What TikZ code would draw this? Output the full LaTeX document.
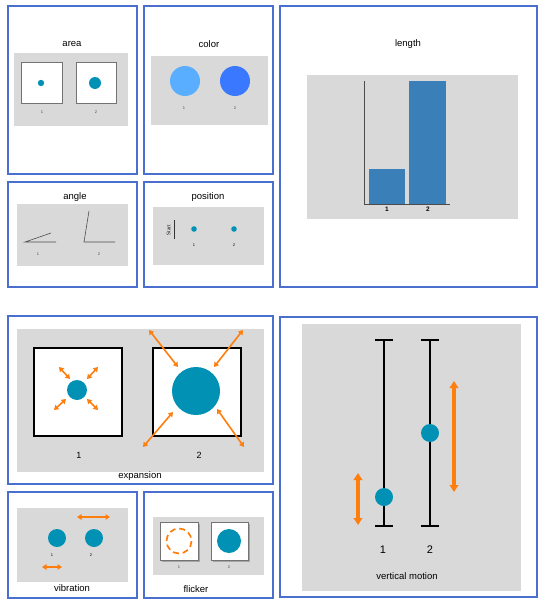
\documentclass[tikz,border=0pt]{standalone}
\usepackage{fontspec}
\setmainfont{Liberation Sans}
\newfontfamily\serifft{Liberation Serif}
\usetikzlibrary{arrows.meta}
\definecolor{panelblue}{HTML}{4A6FCF}
\definecolor{bggray}{HTML}{D9D9D9}
\definecolor{teal}{HTML}{0091B4}
\definecolor{orng}{HTML}{FF7F0E}
\definecolor{lblue}{HTML}{5AAEFF}
\definecolor{dblue}{HTML}{3A78FF}
\definecolor{barblue}{HTML}{3A7FB8}
\tikzset{
  panel/.style={draw=panelblue,line width=2.6pt,fill=white},
  bg/.style={fill=bggray},
  title/.style={font=\fontsize{9.5}{11}\selectfont},
  tiny/.style={font=\fontsize{4}{5}\selectfont,text=black!70},
  dot/.style={fill=teal},
  graybox/.style={draw=black!55,line width=1pt,fill=white},
  blackbox/.style={draw=black,line width=1.2pt,fill=white},
  oarrow/.style={draw=orng,line width=1.6pt,{Triangle[length=4.5pt,width=5.5pt]}-{Triangle[length=4.5pt,width=5.5pt]}},
  bigarrow/.style={draw=orng,line width=3.2pt,{Triangle[length=7pt,width=8.5pt]}-{Triangle[length=7pt,width=8.5pt]}},
}
\begin{document}
\begin{tikzpicture}[x=1pt,y=-1pt]
\useasboundingbox (0,0) rectangle (538,599);
% panels
\draw[panel] (8,6) rectangle (137,174);
\draw[panel] (144,6) rectangle (273,174);
\draw[panel] (280,6) rectangle (537,287);
\draw[panel] (8,182) rectangle (137,287);
\draw[panel] (144,182) rectangle (273,287);
\draw[panel] (8,316) rectangle (273,484);
\draw[panel] (280,317) rectangle (537,597);
\draw[panel] (8,492) rectangle (137,598);
\draw[panel] (144,492) rectangle (273,598);

% area
\node[title] (tArea) at (72,44) {area};
\fill[bg] (14,53) rectangle (128,126);
\draw[graybox] (21,63) rectangle (62,104);
\draw[graybox] (76,63) rectangle (116,104);
\fill[dot] (41,83) circle (3.2);
\fill[dot] (95,83) circle (6);
\node[tiny] (a1) at (42,112) {1};
\node[tiny] (a2) at (96,112) {2};

% color
\node[title] (tColor) at (209,44) {color};
\fill[bg] (151,56) rectangle (268,125);
\fill[lblue] (185,81) circle (15);
\fill[dblue] (235,81) circle (15);
\node[tiny] (c1) at (184,108) {1};
\node[tiny] (c2) at (235,108) {2};

% length
\node[title] (tLength) at (408,44) {length};
\fill[bg] (307,75) rectangle (518,219);
\fill[barblue] (369,169) rectangle (405,204);
\fill[barblue] (409,81) rectangle (446,204);
\draw[black!70,line width=0.6pt] (364,81) -- (364,204) -- (450,204);
\node[font=\fontsize{6.5}{7}\bfseries\selectfont] (l1) at (387,209.5) {1};
\node[font=\fontsize{6.5}{7}\bfseries\selectfont] (l2) at (428,209.5) {2};

% angle
\node[title] (tAngle) at (75,197) {angle};
\fill[bg] (17,204) rectangle (128,266);
\draw[black!70,line width=0.6pt] (51,233) -- (25,242) -- (56,242);
\draw[black!70,line width=0.6pt] (89,211) -- (84,242) -- (115,242);
\node[tiny] (g1) at (38,254) {1};
\node[tiny] (g2) at (99,254) {2};

% position
\node[title] (tPosition) at (208,197) {position};
\fill[bg] (153,207) rectangle (264,265);
\draw[black!80,line width=0.5pt] (174,220) -- (174,239);
\node[rotate=90,font=\serifft\fontsize{5.5}{6}\selectfont] (start) at (168.5,230) {Start};
\fill[dot] (194,229) circle (2.8);
\fill[dot] (234,229) circle (2.8);
\node[tiny,text=black] (p1) at (194,245) {1};
\node[tiny,text=black] (p2) at (234,245) {2};

% expansion
\fill[bg] (17,329) rectangle (264,472);
\draw[blackbox] (34,348) rectangle (122,436);
\draw[blackbox] (153,348) rectangle (241,436);
\fill[dot] (77,390) circle (10);
\fill[dot] (196,391) circle (24);
\draw[oarrow] (59,367) -- (70,379);
\draw[oarrow] (98,367) -- (87,379);
\draw[oarrow] (54,410) -- (66,399);
\draw[oarrow] (98,410) -- (87,399);
\draw[oarrow] (149,330) -- (178,367);
\draw[oarrow] (243,330) -- (214,367);
\draw[oarrow] (143,447) -- (173,412);
\draw[oarrow] (244,447) -- (217,409);
\node[font=\fontsize{9}{10}\selectfont] (e1) at (79,455) {1};
\node[font=\fontsize{9}{10}\selectfont] (e2) at (199,455) {2};
\node[title] (tExp) at (140,476) {expansion};

% vibration
\fill[bg] (17,508) rectangle (128,582);
\fill[dot] (57,538) circle (9);
\fill[dot] (94,538) circle (9);
\draw[oarrow] (77,517) -- (110,517);
\draw[oarrow] (42,567) -- (62,567);
\node[tiny,text=black] (v1) at (52,555) {1};
\node[tiny,text=black] (v2) at (91,555) {2};
\node[title] (tVib) at (72,588) {vibration};

% flicker
\fill[bg] (153,517) rectangle (264,575);
\fill[black!35] (161.5,523.5) rectangle (199.5,561.5);
\fill[black!35] (212.5,523.5) rectangle (249.5,561.5);
\draw[graybox,line width=0.8pt] (160,522) rectangle (198,560);
\draw[graybox,line width=0.8pt] (211,522) rectangle (248,560);
\draw[orng,line width=1.7pt,dash pattern=on 6pt off 3.8pt] (179,541) circle (12.5);
\fill[dot] (229,541) circle (12);
\node[tiny] (f1) at (179,567) {1};
\node[tiny] (f2) at (229,567) {2};
\node[title] (tFlick) at (196,589) {flicker};

% vertical motion
\fill[bg] (302,324) rectangle (521,591);
\draw[black,line width=1.4pt] (375,340) -- (393,340) (384,340) -- (384,526) (375,526) -- (393,526);
\draw[black,line width=1.4pt] (421,340) -- (439,340) (430,340) -- (430,526) (421,526) -- (439,526);
\fill[dot] (384,497) circle (9);
\fill[dot] (430,433) circle (9);
\draw[bigarrow] (358,473) -- (358,525);
\draw[bigarrow] (454,381) -- (454,492);
\node[font=\fontsize{11}{12}\selectfont] (m1) at (383,550) {1};
\node[font=\fontsize{11}{12}\selectfont] (m2) at (430,550) {2};
\node[title] (tVert) at (407,576) {vertical motion};
\end{tikzpicture}
\end{document}
